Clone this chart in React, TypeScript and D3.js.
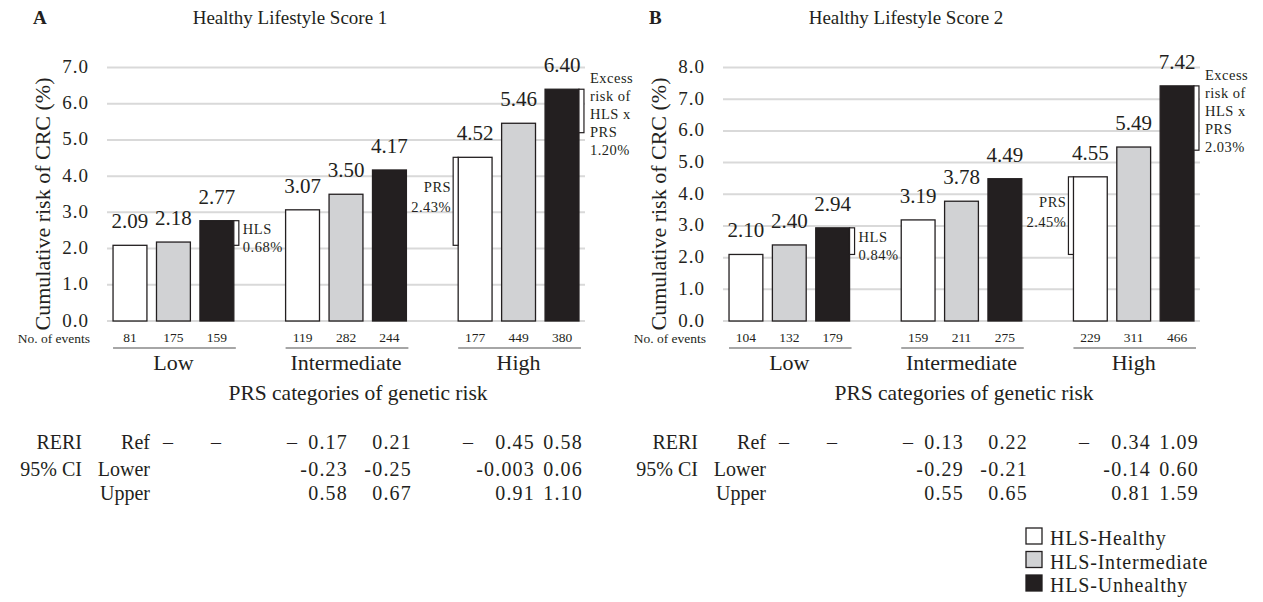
import React from "react";
import * as d3 from "d3";

// PRS categories (x groups) and HLS levels (bars within a group)
const prsGroups = ["Low", "Intermediate", "High"];
const hlsLevels = ["HLS-Healthy", "HLS-Intermediate", "HLS-Unhealthy"];
const hlsFill = ["#ffffff", "#d1d2d4", "#231f20"];

// Panel A: Healthy Lifestyle Score 1
const risk1 = [
  [2.09, 2.18, 2.77],
  [3.07, 3.5, 4.17],
  [4.52, 5.46, 6.4],
];
const events1 = [
  [81, 175, 159],
  [119, 282, 244],
  [177, 449, 380],
];
const excess1 = 1.2;
const reriEst1 = ["0.17", "0.21", "0.45", "0.58"];
const reriLower1 = ["-0.23", "-0.25", "-0.003", "0.06"];
const reriUpper1 = ["0.58", "0.67", "0.91", "1.10"];

// Panel B: Healthy Lifestyle Score 2
const risk2 = [
  [2.1, 2.4, 2.94],
  [3.19, 3.78, 4.49],
  [4.55, 5.49, 7.42],
];
const events2 = [
  [104, 132, 179],
  [159, 211, 275],
  [229, 311, 466],
];
const excess2 = 2.03;
const reriEst2 = ["0.13", "0.22", "0.34", "1.09"];
const reriLower2 = ["-0.29", "-0.21", "-0.14", "0.60"];
const reriUpper2 = ["0.55", "0.65", "0.81", "1.59"];

const FONT = "'Liberation Serif', 'Times New Roman', serif";
const INK = "#231f20";
const GRID = "#d9d9d9";

interface PanelProps {
  x0: number;
  x1: number;
  letter: string;
  title: string;
  xTitleX: number;
  yMax: number;
  risk: number[][];
  events: number[][];
  excess: number;
  reri: string[][];
}

const Panel: React.FC<PanelProps> = ({ x0, x1, letter, title, xTitleX, yMax, risk, events, excess, reri }) => {
  const y = d3.scaleLinear().domain([0, yMax]).range([321, 67.5]);
  const outer = d3.scaleBand<string>().domain(prsGroups).range([x0, x1]).paddingInner(0.3).paddingOuter(0.035);
  const inner = d3.scaleBand<string>().domain(hlsLevels).range([0, outer.bandwidth()]).paddingInner(0.22);
  const bw = inner.bandwidth();
  const barX = (g: number, h: number) => (outer(prsGroups[g]) as number) + (inner(hlsLevels[h]) as number);

  // bracket geometry
  const hlsRight = barX(0, 2) + bw;
  const hlsTop = y(risk[0][2]);
  const hlsBot = y(risk[0][0]);
  const hlsMid = (hlsTop + hlsBot) / 2;

  const prsLeft = barX(2, 0);
  const prsTop = y(risk[2][0]);
  const prsBot = y(risk[0][0]);
  const prsMid = (prsTop + prsBot) / 2;

  const exRight = barX(2, 2) + bw;
  const exTop = y(risk[2][2]);
  const exBot = y(risk[2][2] - excess);

  const annot = { fontFamily: FONT, fontSize: 14.5, letterSpacing: 0.5, fill: INK };
  const dashCols = [61, 109, 185, 361];
  const valCols = [241, 305, 428, 476];
  const rowY = [449, 476, 500];

  return (
    <g>
      {/* panel letter and title */}
      <text x={x0 - 74} y={24} fontFamily={FONT} fontSize={19} fontWeight="bold" fill={INK}>
        {letter}
      </text>
      <text x={x0 + 183} y={24} textAnchor="middle" fontFamily={FONT} fontSize={19} fill={INK}>
        {title}
      </text>

      {/* gridlines and y tick labels */}
      {y.ticks(yMax).map((t) => (
        <g key={t}>
          <line x1={x0} x2={x1} y1={y(t)} y2={y(t)} stroke={GRID} strokeWidth={2} />
          <text
            x={x0 - 18}
            y={y(t) + 5.5}
            textAnchor="end"
            fontFamily={FONT}
            fontSize={19}
            letterSpacing={1}
            fill={INK}
          >
            {t.toFixed(1)}
          </text>
        </g>
      ))}

      <text
        transform={`translate(${x0 - 57},204) rotate(-90)`}
        textAnchor="middle"
        fontFamily={FONT}
        fontSize={22}
        fill={INK}
      >
        Cumulative risk of CRC (%)
      </text>

      {/* bars */}
      {risk.map((row, g) =>
        row.map((v, h) => (
          <g key={`${g}-${h}`}>
            <rect
              x={barX(g, h)}
              y={y(v)}
              width={bw}
              height={y(0) - y(v)}
              fill={hlsFill[h]}
              stroke={INK}
              strokeWidth={1.3}
            />
            <text
              x={barX(g, h) + bw / 2}
              y={y(v) - 17}
              textAnchor="middle"
              fontFamily={FONT}
              fontSize={21}
              fill={INK}
            >
              {v.toFixed(2)}
            </text>
            <text
              x={barX(g, h) + bw / 2}
              y={342}
              textAnchor="middle"
              fontFamily={FONT}
              fontSize={13.5}
              fill={INK}
            >
              {events[g][h]}
            </text>
          </g>
        ))
      )}

      <text x={x0 - 17} y={343} textAnchor="end" fontFamily={FONT} fontSize={13.5} fill={INK}>
        No. of events
      </text>

      {/* category underlines and labels */}
      {prsGroups.map((g) => {
        const gx = outer(g) as number;
        return (
          <g key={g}>
            <line x1={gx} x2={gx + outer.bandwidth() + 2} y1={348} y2={348} stroke="#a6a6a6" strokeWidth={2} />
            <text
              x={gx + outer.bandwidth() / 2}
              y={370}
              textAnchor="middle"
              fontFamily={FONT}
              fontSize={22}
              fill={INK}
            >
              {g}
            </text>
          </g>
        );
      })}

      <text x={xTitleX} y={400} textAnchor="middle" fontFamily={FONT} fontSize={21.5} fill={INK}>
        PRS categories of genetic risk
      </text>

      {/* HLS bracket */}
      <rect x={hlsRight} y={hlsTop} width={5} height={hlsBot - hlsTop} fill="#fff" stroke={INK} strokeWidth={1.2} />
      <text x={hlsRight + 9} y={hlsMid + 1} {...annot}>HLS</text>
      <text x={hlsRight + 9} y={hlsMid + 19} {...annot}>
        {(risk[0][2] - risk[0][0]).toFixed(2)}%
      </text>

      {/* PRS bracket */}
      <rect x={prsLeft - 5} y={prsTop} width={5} height={prsBot - prsTop} fill="#fff" stroke={INK} strokeWidth={1.2} />
      <text x={prsLeft - 7} y={prsMid - 9} textAnchor="end" {...annot}>PRS</text>
      <text x={prsLeft - 7} y={prsMid + 11} textAnchor="end" {...annot}>
        {(risk[2][0] - risk[0][0]).toFixed(2)}%
      </text>

      {/* Excess risk bracket */}
      <rect x={exRight} y={exTop} width={5} height={exBot - exTop} fill="#fff" stroke={INK} strokeWidth={1.2} />
      {["Excess", "risk of", "HLS x", "PRS", `${excess.toFixed(2)}%`].map((s, i) => (
        <text key={s} x={exRight + 11} y={exTop - 6 + i * 18} {...annot}>
          {s}
        </text>
      ))}

      {/* RERI table */}
      <g fontFamily={FONT} fontSize={20} fill={INK}>
        <text x={x0 - 25} y={rowY[0]} textAnchor="end">RERI</text>
        <text x={x0 - 25} y={rowY[1]} textAnchor="end">95% CI</text>
        {["Ref", "Lower", "Upper"].map((s, i) => (
          <text key={s} x={x0 + 43} y={rowY[i]} textAnchor="end">
            {s}
          </text>
        ))}
        {dashCols.map((c) => (
          <text key={c} x={x0 + c} y={rowY[0]} textAnchor="middle">
            –
          </text>
        ))}
        {reri.map((row, r) =>
          row.map((s, i) => (
            <text key={`${r}-${i}`} x={x0 + valCols[i]} y={rowY[r]} textAnchor="end" letterSpacing={1.2}>
              {s}
            </text>
          ))
        )}
      </g>
    </g>
  );
};

export default function App() {
  return (
    <svg
      width={1263}
      height={602}
      style={{ position: "absolute", left: 0, top: 0, background: "#fff" }}
    >
      <Panel
        x0={107}
        x1={585}
        letter="A"
        title="Healthy Lifestyle Score 1"
        xTitleX={358}
        yMax={7}
        risk={risk1}
        events={events1}
        excess={excess1}
        reri={[reriEst1, reriLower1, reriUpper1]}
      />
      <Panel
        x0={723}
        x1={1200}
        letter="B"
        title="Healthy Lifestyle Score 2"
        xTitleX={964}
        yMax={8}
        risk={risk2}
        events={events2}
        excess={excess2}
        reri={[reriEst2, reriLower2, reriUpper2]}
      />

      {/* legend */}
      {hlsLevels.map((h, i) => (
        <g key={h}>
          <rect x={1026} y={528 + i * 23.5} width={16} height={16} fill={hlsFill[i]} stroke={INK} strokeWidth={1.3} />
          <text x={1050} y={545 + i * 23.5} fontFamily={FONT} fontSize={20} letterSpacing={0.8} fill={INK}>
            {h}
          </text>
        </g>
      ))}
    </svg>
  );
}
